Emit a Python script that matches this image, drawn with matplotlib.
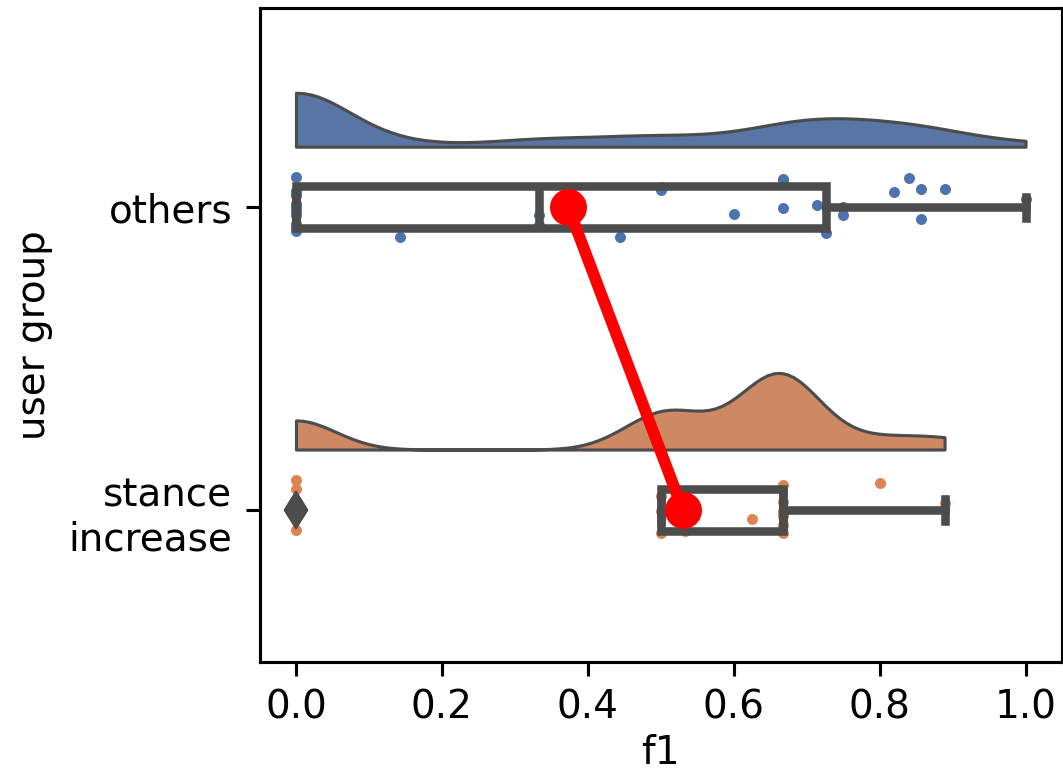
import numpy as np
import matplotlib.pyplot as plt

# f1 scores per user group
groups = ["others", "stance\nincrease"]
others_f1 = [0.0, 0.0, 0.0, 0.0, 0.0, 0.0, 0.0, 0.0, 0.0, 0.0, 0.0, 0.0, 0.0, 0.0, 0.0, 0.0,
             0.143, 0.333, 0.333, 0.444, 0.5, 0.5, 0.6, 0.667, 0.667, 0.667, 0.714, 0.727,
             0.75, 0.75, 0.75, 0.82, 0.84, 0.857, 0.857, 0.889, 1.0]
stance_f1 = [0.0, 0.0, 0.0, 0.5, 0.5, 0.5, 0.533, 0.625,
             0.667, 0.667, 0.667, 0.667, 0.667, 0.667, 0.667, 0.8, 0.889]
xticks = [0.0, 0.2, 0.4, 0.6, 0.8, 1.0]

cloud_colors = ["#5875a4", "#cc8963"]
dot_colors = ["#4c72b0", "#dd8452"]
gray = "#4c4c4c"

data = [others_f1, stance_f1]
pos = np.arange(len(groups))

fig = plt.figure(figsize=(1063 / 280, 771 / 280), dpi=280)
ax = fig.add_axes([259.5 / 1063, 1 - 661.5 / 771, (1062 - 259.5) / 1063, (661.5 - 8) / 771])

# half violins (the "clouds")
vp = ax.violinplot(data, positions=pos - 0.2, orientation="horizontal", widths=[0.356, 0.506],
                   showextrema=False, bw_method=0.2, side="low")
for body, c in zip(vp["bodies"], cloud_colors):
    body.set_facecolor(c)
    body.set_edgecolor(gray)
    body.set_linewidth(0.8)
    body.set_alpha(1)
    body.set_zorder(1)

# jittered points (the "rain")
rng = np.random.default_rng(7)
for i, (vals, c) in enumerate(zip(data, dot_colors)):
    jit = rng.uniform(-0.1, 0.1, len(vals))
    ax.scatter(vals, i + jit, s=8, color=c, linewidths=0, zorder=2)

# boxes
line = dict(color=gray, linewidth=2.2)
ax.boxplot(data, positions=pos, orientation="horizontal", widths=0.14, patch_artist=True,
           boxprops=dict(facecolor="none", edgecolor=gray, linewidth=2.2),
           medianprops=line, whiskerprops=line, capprops=line,
           flierprops=dict(marker="d", markerfacecolor=gray, markeredgecolor=gray, markersize=6),
           zorder=3)

# means joined by a red line
means = [np.mean(d) for d in data]
ax.plot(means, pos, color="red", lw=3, marker="o", ms=8.5, zorder=5)

ax.set_yticks(pos, groups)
ax.set_xticks(xticks)
ax.set_xlim(-0.05, 1.05)
ax.set_ylim(1.5, -0.658)
ax.set_xlabel("f1", labelpad=2)
ax.set_ylabel("user group")

fig.savefig("out.png", dpi=280)
